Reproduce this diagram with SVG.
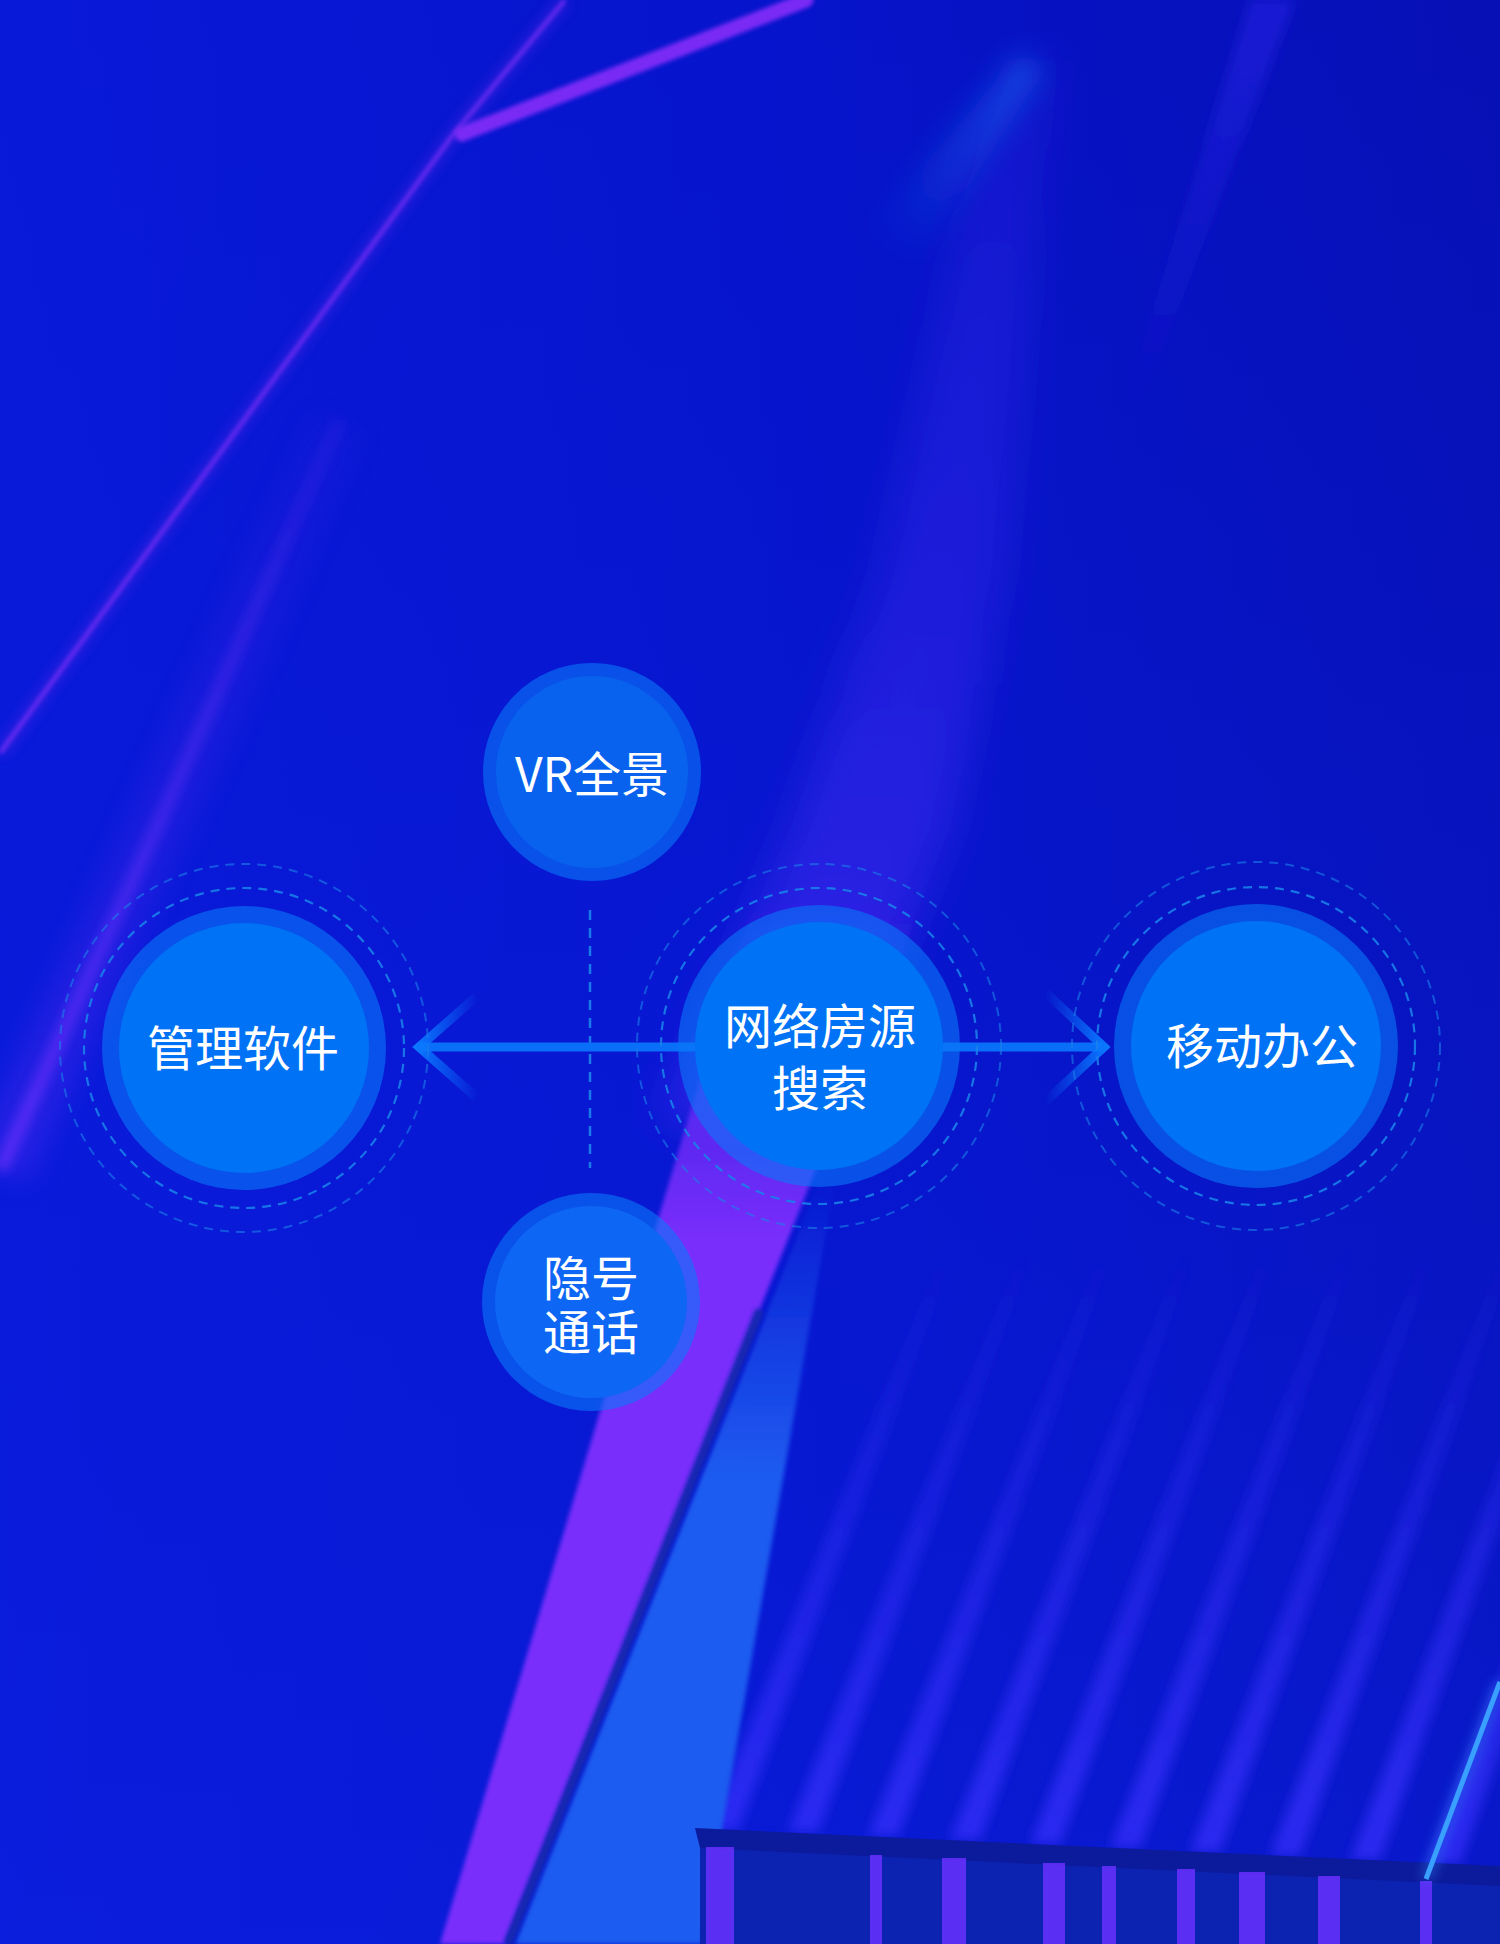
<svg xmlns="http://www.w3.org/2000/svg" width="1500" height="1944" viewBox="0 0 1500 1944">
<defs>
<style>
.lbl{font-family:"Noto Sans CJK SC","Noto Sans",sans-serif;font-size:48px;font-weight:400;fill:#ffffff;text-anchor:middle}
.ring{fill:#0a78f8;fill-opacity:0.6}
.core{fill:#0072f6}
.dash1{fill:none;stroke:#1a80ea;stroke-width:2.2;stroke-dasharray:9 7;opacity:0.9}
.dash2{fill:none;stroke:#1a80ea;stroke-width:2;stroke-dasharray:9 7;opacity:0.6}
.stripe{fill:#6a30ff;opacity:0.85}
</style>
<linearGradient id="bg" x1="0" y1="0" x2="1" y2="0">
<stop offset="0" stop-color="#0919d8"/>
<stop offset="0.5" stop-color="#0614cc"/>
<stop offset="1" stop-color="#0610b4"/>
</linearGradient>
<linearGradient id="bgv" x1="0" y1="0" x2="0" y2="1">
<stop offset="0" stop-color="#0a1ee0" stop-opacity="0"/>
<stop offset="1" stop-color="#0c22e0" stop-opacity="0.5"/>
</linearGradient>
<linearGradient id="purp" gradientUnits="userSpaceOnUse" x1="0" y1="900" x2="0" y2="1240">
<stop offset="0" stop-color="#7a2efc" stop-opacity="0"/>
<stop offset="0.5" stop-color="#7a2efc" stop-opacity="0.55"/>
<stop offset="1" stop-color="#7a2efc" stop-opacity="1"/>
</linearGradient>
<linearGradient id="blueband" gradientUnits="userSpaceOnUse" x1="0" y1="1180" x2="0" y2="1480">
<stop offset="0" stop-color="#1e5cf0" stop-opacity="0"/>
<stop offset="1" stop-color="#1e5cf0" stop-opacity="1"/>
</linearGradient>
<linearGradient id="beam" gradientUnits="userSpaceOnUse" x1="0" y1="1230" x2="0" y2="1830">
<stop offset="0" stop-color="#3a30ff" stop-opacity="0"/>
<stop offset="1" stop-color="#3a30ff" stop-opacity="0.7"/>
</linearGradient>
<linearGradient id="leftstreak" gradientUnits="userSpaceOnUse" x1="0" y1="420" x2="0" y2="1170">
<stop offset="0" stop-color="#6a30f5" stop-opacity="0.2"/>
<stop offset="1" stop-color="#7030ff" stop-opacity="0.95"/>
</linearGradient>
<linearGradient id="cyanstreak" gradientUnits="userSpaceOnUse" x1="1030" y1="60" x2="880" y2="250">
<stop offset="0" stop-color="#1a66f2" stop-opacity="0.6"/>
<stop offset="1" stop-color="#1a66f2" stop-opacity="0"/>
</linearGradient>
<linearGradient id="faint" gradientUnits="userSpaceOnUse" x1="0" y1="0" x2="0" y2="420">
<stop offset="0" stop-color="#2a22e8" stop-opacity="0.55"/>
<stop offset="1" stop-color="#2a22e8" stop-opacity="0"/>
</linearGradient>
<linearGradient id="violet" gradientUnits="userSpaceOnUse" x1="0" y1="60" x2="0" y2="1120">
<stop offset="0" stop-color="#5030ff" stop-opacity="0.15"/>
<stop offset="0.5" stop-color="#5030ff" stop-opacity="0.3"/>
<stop offset="1" stop-color="#5a30ff" stop-opacity="0.5"/>
</linearGradient>
<linearGradient id="armL" gradientUnits="userSpaceOnUse" x1="417" y1="0" x2="478" y2="0">
<stop offset="0" stop-color="#0a78ff" stop-opacity="1"/>
<stop offset="1" stop-color="#0a78ff" stop-opacity="0"/>
</linearGradient>
<linearGradient id="armR" gradientUnits="userSpaceOnUse" x1="1106" y1="0" x2="1045" y2="0">
<stop offset="0" stop-color="#0a78ff" stop-opacity="1"/>
<stop offset="1" stop-color="#0a78ff" stop-opacity="0"/>
</linearGradient>
<filter id="b2" x="-20%" y="-20%" width="140%" height="140%"><feGaussianBlur stdDeviation="2"/></filter>
<filter id="b6" x="-30%" y="-30%" width="160%" height="160%"><feGaussianBlur stdDeviation="6"/></filter>
<filter id="b14" x="-50%" y="-50%" width="200%" height="200%"><feGaussianBlur stdDeviation="14"/></filter>
<filter id="b22" x="-50%" y="-50%" width="200%" height="200%"><feGaussianBlur stdDeviation="22"/></filter>
</defs>

<g id="background">
<rect width="1500" height="1944" fill="url(#bg)"/>
<rect width="1500" height="1944" fill="url(#bgv)"/>
<path d="M1015,60 L965,191 L880,574 L790,829 L715,1000 L660,1120 L820,1120 L880,1000 L950,829 L1005,574 L1040,191 L1060,60 Z" fill="url(#violet)" filter="url(#b22)"/>
<path d="M1022,52 L1042,72 L920,262 L866,232 Z" fill="url(#cyanstreak)" filter="url(#b14)"/>
<path d="M1250,0 L1295,0 L1140,412 L1122,405 Z" fill="url(#faint)" filter="url(#b6)"/>
<path d="M565,0 L452,136 L0,753" fill="none" stroke="#6a2cf0" stroke-width="14" opacity="0.3" filter="url(#b6)"/>
<path d="M565,0 L452,136 L0,753" fill="none" stroke="#6e2cf2" stroke-width="4" filter="url(#b2)"/>
<path d="M806,0 L462,134" fill="none" stroke="#7a2cf5" stroke-width="15" stroke-linecap="round" filter="url(#b2)"/>
<path d="M340,420 L160,820 L0,1170" fill="none" stroke="url(#leftstreak)" stroke-width="60" opacity="0.3" filter="url(#b14)"/>
<path d="M340,420 L160,820 L0,1170" fill="none" stroke="url(#leftstreak)" stroke-width="12" opacity="0.8" filter="url(#b6)"/>
<g fill="url(#beam)" filter="url(#b6)">
<path d="M708,1830 L738,1830 L964,1230 L950,1230 Z"/>
<path d="M788,1832 L818,1832 L1042,1230 L1028,1230 Z"/>
<path d="M868,1836 L898,1836 L1122,1230 L1108,1230 Z"/>
<path d="M950,1840 L980,1840 L1204,1230 L1190,1230 Z"/>
<path d="M1030,1844 L1060,1844 L1284,1230 L1270,1230 Z"/>
<path d="M1110,1848 L1140,1848 L1364,1230 L1350,1230 Z"/>
<path d="M1190,1852 L1220,1852 L1444,1230 L1430,1230 Z"/>
<path d="M1270,1856 L1300,1856 L1524,1230 L1510,1230 Z"/>
<path d="M1350,1860 L1380,1860 L1604,1230 L1590,1230 Z"/>
<path d="M1430,1864 L1460,1864 L1684,1230 L1670,1230 Z"/>
</g>
<path d="M754,900 L924,900 L505,1944 L440,1944 Z" fill="url(#purp)" filter="url(#b2)"/>
<path d="M820,1180 L835,1180 L702,1944 L515,1944 Z" fill="url(#blueband)" filter="url(#b2)"/>
<path d="M760,1310 L508,1944" stroke="#1428b0" stroke-width="9" fill="none" filter="url(#b2)"/>
<path d="M700,1846 L1500,1884 L1500,1944 L700,1944 Z" fill="#0c22b0"/>
<path d="M695,1828 L1500,1866 L1500,1886 L700,1848 Z" fill="#0c1a9c"/>
<rect class="stripe" x="706" y="1847" width="28" height="97"/>
<rect class="stripe" x="870" y="1855" width="12" height="89"/>
<rect class="stripe" x="942" y="1858" width="24" height="86"/>
<rect class="stripe" x="1043" y="1863" width="22" height="81"/>
<rect class="stripe" x="1102" y="1866" width="14" height="78"/>
<rect class="stripe" x="1177" y="1869" width="18" height="75"/>
<rect class="stripe" x="1239" y="1872" width="26" height="72"/>
<rect class="stripe" x="1318" y="1876" width="22" height="68"/>
<rect class="stripe" x="1420" y="1881" width="12" height="63"/>
<path d="M1500,1682 L1426,1879" stroke="#3aa0ff" stroke-width="12" opacity="0.35" filter="url(#b6)"/>
<path d="M1500,1682 L1426,1879" stroke="#3aa0ff" stroke-width="5"/>
</g>

<g id="connectors">
<line x1="590" y1="910" x2="590" y2="1168" stroke="#1a7ae8" stroke-width="2.5" stroke-dasharray="10 8"/>
<line x1="420" y1="1047" x2="1102" y2="1047" stroke="#0a6ff8" stroke-width="9"/>
<path d="M476,997 L419,1047 L476,1097" fill="none" stroke="url(#armL)" stroke-width="9"/>
<path d="M1046,993 L1104,1047 L1046,1101" fill="none" stroke="url(#armR)" stroke-width="9"/>
</g>

<g id="node-left">
<circle class="dash2" cx="244" cy="1048" r="184"/>
<circle class="dash1" cx="244" cy="1048" r="160"/>
<circle class="ring" cx="244" cy="1048" r="142"/>
<circle class="core" cx="244" cy="1048" r="125"/>
<text class="lbl" x="243" y="1066">管理软件</text>
</g>

<g id="node-center">
<circle class="dash2" cx="819" cy="1046" r="182"/>
<circle class="dash1" cx="819" cy="1046" r="158"/>
<circle class="ring" cx="819" cy="1046" r="141"/>
<circle class="core" cx="819" cy="1046" r="124"/>
<text class="lbl" x="820" y="1044">网络房源<tspan x="820" y="1106">搜索</tspan></text>
</g>

<g id="node-right">
<circle class="dash2" cx="1256" cy="1046" r="184"/>
<circle class="dash1" cx="1256" cy="1046" r="159"/>
<circle class="ring" cx="1256" cy="1046" r="142"/>
<circle class="core" cx="1256" cy="1046" r="125"/>
<text class="lbl" x="1262" y="1064">移动办公</text>
</g>

<g id="node-vr">
<circle class="ring" cx="592" cy="772" r="109"/>
<circle cx="592" cy="772" r="96" fill="#0862ee"/>
<text class="lbl" x="592" y="792">VR全景</text>
</g>

<g id="node-bottom">
<circle class="ring" cx="591" cy="1302" r="109"/>
<circle cx="591" cy="1302" r="96" fill="#0e66f4"/>
<text class="lbl" x="591" y="1296">隐号<tspan x="591" y="1350">通话</tspan></text>
</g>
</svg>
